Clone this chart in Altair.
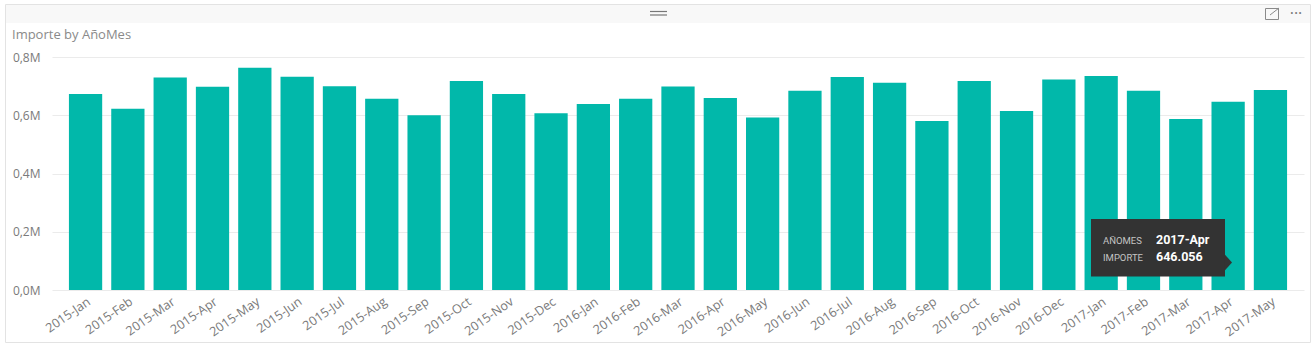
import altair as alt
import pandas as pd

months = [
    "2015-Jan", "2015-Feb", "2015-Mar", "2015-Apr", "2015-May", "2015-Jun",
    "2015-Jul", "2015-Aug", "2015-Sep", "2015-Oct", "2015-Nov", "2015-Dec",
    "2016-Jan", "2016-Feb", "2016-Mar", "2016-Apr", "2016-May", "2016-Jun",
    "2016-Jul", "2016-Aug", "2016-Sep", "2016-Oct", "2016-Nov", "2016-Dec",
    "2017-Jan", "2017-Feb", "2017-Mar", "2017-Apr", "2017-May",
]
importe = [
    673000, 622000, 730000, 698000, 763000, 732000,
    700000, 657000, 600000, 718000, 673000, 607000,
    639000, 657000, 699000, 659000, 592000, 684000,
    731000, 712000, 580000, 718000, 615000, 723000,
    735000, 684000, 587000, 646056, 687000,
]
y_ticks = [0, 200000, 400000, 600000, 800000]
title_text = "Importe by AñoMes"
tip_labels = ["AÑOMES", "IMPORTE"]
tip_values = ["2017-Apr", "646.056"]

df = pd.DataFrame({"AñoMes": months, "Importe": importe})

FONT = "Open Sans"
GRAY = "#7a7a7a"
TEAL = "#01B8AA"

W, H = 1252, 233
OX, OY = 52, 57  # plot origin in page pixels


def px(v):
    return alt.value(v - OX)


def py(v):
    return alt.value(v - OY)


one = alt.Data(values=[{}])

bars = alt.Chart(df).mark_bar(color=TEAL).encode(
    x=alt.X(
        "AñoMes:N",
        sort=months,
        scale=alt.Scale(paddingInner=0.214, paddingOuter=0.4),
        axis=alt.Axis(
            title=None, labelAngle=325, labelFontSize=12.6, labelFont=FONT,
            labelColor=GRAY, ticks=False, domain=False, labelPadding=5,
            grid=False,
        ),
    ),
    y=alt.Y(
        "Importe:Q",
        scale=alt.Scale(domain=[0, 800000], nice=False),
        axis=alt.Axis(
            title=None, values=y_ticks, labelFontSize=12, labelFont=FONT,
            labelColor=GRAY, ticks=False, domain=False, labelPadding=12,
            gridColor="#ebebeb", gridWidth=1,
            labelExpr="replace(format(datum.value/1000000, '.1f'), '.', ',') + 'M'",
        ),
    ),
)

# visual frame and header
frame = alt.Chart(one).mark_rect(fill="transparent", stroke="#e3e3e3", strokeWidth=1).encode(
    x=px(5.5), x2=px(1310.5), y=py(4.5), y2=py(342.5)
)
header = alt.Chart(one).mark_rect(fill="#f8f8f8").encode(
    x=px(6), x2=px(1310), y=py(5), y2=py(23)
)
grip1 = alt.Chart(one).mark_rule(color="#777777", strokeWidth=1.2).encode(
    x=px(650), x2=px(667), y=py(11.5)
)
grip2 = alt.Chart(one).mark_rule(color="#777777", strokeWidth=1.2).encode(
    x=px(650), x2=px(667), y=py(15)
)
focus_box = alt.Chart(one).mark_rect(fill="transparent", stroke="#8a8a8a", strokeWidth=1).encode(
    x=px(1265.5), x2=px(1278.5), y=py(8.5), y2=py(19.5)
)
focus_arrow = alt.Chart(one).mark_rule(color="#8a8a8a", strokeWidth=1).encode(
    x=px(1270), x2=px(1279), y=py(15), y2=py(8)
)
dots = alt.Chart(one).mark_text(
    text="···", font=FONT, fontSize=16, color="#777777", align="center", baseline="middle"
).encode(x=px(1296), y=py(13.5))

title = alt.Chart(one).mark_text(
    text=title_text, font=FONT, fontSize=13, color="#8a8a8a", align="left", baseline="alphabetic"
).encode(x=px(12), y=py(39))

# tooltip overlay
tip_box = alt.Chart(one).mark_rect(fill="#333333").encode(
    x=px(1091), x2=px(1225), y=py(219), y2=py(276.5)
)
tip_arrow = alt.Chart(one).mark_point(
    shape="M -0.9 -1 L 0 0 L -0.9 1 Z", filled=True, fill="#333333", opacity=1, size=256, strokeWidth=0
).encode(x=px(1232), y=py(262.5))

tip_layers = []
for i, (lab, val) in enumerate(zip(tip_labels, tip_values)):
    base_y = 244 + 17 * i
    tip_layers.append(
        alt.Chart(one).mark_text(
            text=lab, font="Roboto", fontSize=9.5, color="#c4c4c4",
            align="left", baseline="alphabetic",
        ).encode(x=px(1103), y=py(base_y))
    )
    tip_layers.append(
        alt.Chart(one).mark_text(
            text=val, font="Roboto", fontSize=12.5, fontWeight="bold", color="white",
            align="left", baseline="alphabetic",
        ).encode(x=px(1156), y=py(base_y))
    )

chart = alt.layer(
    header, frame, grip1, grip2, focus_box, focus_arrow, dots, title,
    bars, tip_box, tip_arrow, *tip_layers,
).properties(
    width=W, height=H,
    autosize=alt.AutoSizeParams(type="none"),
    padding={"left": OX, "top": OY, "right": 1315 - OX - W, "bottom": 355 - OY - H},
    background="white",
).configure_view(stroke=None)

chart.save("out.html", embed_options={"renderer": "svg", "actions": False})
